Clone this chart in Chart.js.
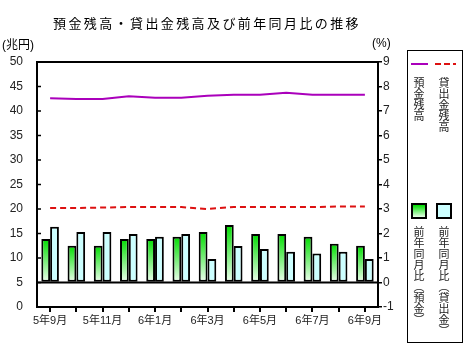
<!DOCTYPE html>
<html><head><meta charset="utf-8">
<script src="https://cdn.jsdelivr.net/npm/chart.js@4"></script>
<style>
html,body{margin:0;padding:0;background:#fff;}
#wrap{position:relative;width:467px;height:360px;overflow:hidden;font-family:"Liberation Sans","Noto Sans CJK JP",sans-serif;}
canvas{position:absolute;left:0;top:0;}
.abs{position:absolute;white-space:nowrap;color:#000;}
#title{left:53px;top:15px;font-size:13px;line-height:16px;letter-spacing:2.4px;font-family:"Noto Sans CJK JP",sans-serif;}
.unit{font-size:12px;line-height:14px;font-family:"Liberation Sans","Noto Sans CJK JP",sans-serif;}
#legend{left:407px;top:50px;width:54px;height:291px;border:1px solid #000;}
.vt{position:absolute;writing-mode:vertical-rl;font-size:11px;line-height:12px;font-family:"Noto Sans CJK JP",sans-serif;color:#222;}
.sq{position:absolute;width:12px;height:12px;border:2px solid #000;}
</style></head>
<body><div id="wrap">
<canvas id="c" width="467" height="360"></canvas>
<div id="title" class="abs">預金残高・貸出金残高及び前年同月比の推移</div>
<div class="abs unit" style="left:2px;top:38px;">(兆円)</div>
<div class="abs unit" style="left:372px;top:36px;">(%)</div>
<div id="legend" class="abs">
  <div style="position:absolute;left:3px;top:12px;width:17px;height:2px;background:#aa00bb;"></div>
  <div style="position:absolute;left:27px;top:12px;width:21px;height:2px;background:repeating-linear-gradient(90deg,#dd1111 0 6px,transparent 6px 9px);"></div>
  <div class="vt" style="left:5px;top:26px;">預金残高</div>
  <div class="vt" style="left:30px;top:26px;">貸出金残高</div>
  <div class="sq" style="left:3px;top:152px;background:linear-gradient(180deg,#00dd00,#e8ffe8);"></div>
  <div class="sq" style="left:28px;top:152px;background:#ccffff;"></div>
  <div class="vt" style="left:5px;top:175px;">前年同月比（預金）</div>
  <div class="vt" style="left:30px;top:175px;">前年同月比（貸出金）</div>
</div>
</div>
<script>
const categories = ["5年9月","5年10月","5年11月","5年12月","6年1月","6年2月","6年3月","6年4月","6年5月","6年6月","6年7月","6年8月","6年9月"];
const depositBalance = [42.6,42.45,42.45,43.0,42.7,42.7,43.1,43.3,43.3,43.7,43.3,43.3,43.3];
const loanBalance = [20.2,20.2,20.3,20.4,20.4,20.4,20.0,20.4,20.4,20.4,20.4,20.5,20.5];
const depositYoY = [1.78,1.50,1.50,1.78,1.78,1.87,2.06,2.35,1.98,1.98,1.87,1.58,1.50];
const loanYoY = [2.28,2.06,2.06,1.98,1.87,1.98,0.96,1.49,1.37,1.26,1.18,1.26,0.96];
const leftTicks = {min:0,max:50,step:5};
const rightTicks = {min:-1,max:9,step:1};

const tickFont = {family:"'Liberation Sans','Noto Sans CJK JP',sans-serif", size:12};
const xFont = {family:"'Liberation Sans','Noto Sans CJK JP',sans-serif", size:11};

function greenGrad(ctx){
  const chart = ctx.chart;
  if(!chart.chartArea || ctx.parsed===undefined) return '#00dd00';
  const s = chart.scales.y2;
  const top = s.getPixelForValue(ctx.parsed.y);
  const base = s.getPixelForValue(0);
  const g = chart.ctx.createLinearGradient(0, top, 0, base);
  g.addColorStop(0,'#00dd00');
  g.addColorStop(1,'#f0fff0');
  return g;
}

const framePlugin = {
  id:'frame',
  afterDatasetsDraw(chart){
    const {ctx, chartArea:a, scales} = chart;
    ctx.save();
    ctx.strokeStyle='#000';
    const z = scales.y2.getPixelForValue(0);
    ctx.lineWidth=2;
    ctx.beginPath(); ctx.moveTo(a.left,z); ctx.lineTo(a.right,z); ctx.stroke();
    ctx.lineWidth=2;
    ctx.strokeRect(a.left,a.top,a.right-a.left,a.bottom-a.top);
    ctx.lineWidth=1.5;
    for(let v=leftTicks.min; v<=leftTicks.max; v+=leftTicks.step){
      const y = scales.y.getPixelForValue(v);
      ctx.beginPath(); ctx.moveTo(a.left,y); ctx.lineTo(a.left+4,y); ctx.stroke();
    }
    ctx.restore();
  }
};

new Chart(document.getElementById('c'),{
  data:{
    labels:categories,
    datasets:[
      {type:'line',label:'預金残高',data:depositBalance,yAxisID:'y',borderColor:'#aa00bb',borderWidth:2,pointRadius:0,tension:0,order:0},
      {type:'line',label:'貸出金残高',data:loanBalance,yAxisID:'y',borderColor:'#dd1111',borderWidth:2,borderDash:[6,4],pointRadius:0,tension:0,order:0},
      {type:'bar',label:'前年同月比（預金）',data:depositYoY,yAxisID:'y2',backgroundColor:greenGrad,borderColor:'#000',borderWidth:2,borderSkipped:false,categoryPercentage:0.67,barPercentage:1,order:1},
      {type:'bar',label:'前年同月比（貸出金）',data:loanYoY,yAxisID:'y2',backgroundColor:'#ccffff',borderColor:'#000',borderWidth:2,borderSkipped:false,categoryPercentage:0.67,barPercentage:1,order:1}
    ]
  },
  options:{
    responsive:false,animation:false,devicePixelRatio:1,
    layout:{padding:{top:62,left:0,right:0,bottom:0}},
    plugins:{legend:{display:false},title:{display:false},tooltip:{enabled:false}},
    scales:{
      x:{
        offset:true,
        grid:{offset:false,drawOnChartArea:false,drawTicks:true,tickLength:5,color:'#000',lineWidth:2},
        border:{display:false},
        ticks:{autoSkip:false,maxRotation:0,minRotation:0,padding:2,color:'#222',font:xFont,
          callback:function(v,i){return i%2===0?categories[i]:'';}},
        afterFit(s){s.height=53;}
      },
      y:{
        position:'left',min:leftTicks.min,max:leftTicks.max,
        ticks:{stepSize:leftTicks.step,padding:6,color:'#222',font:tickFont},
        grid:{display:false},border:{display:false},
        afterFit(s){s.width=37;}
      },
      y2:{
        position:'right',min:rightTicks.min,max:rightTicks.max,
        ticks:{stepSize:rightTicks.step,padding:1,color:'#222',font:tickFont},
        grid:{drawOnChartArea:false,drawTicks:true,tickLength:4,color:'#000',lineWidth:1.5},
        border:{display:false},
        afterFit(s){s.width=89;}
      }
    }
  },
  plugins:[framePlugin]
});
</script>
</body></html>
